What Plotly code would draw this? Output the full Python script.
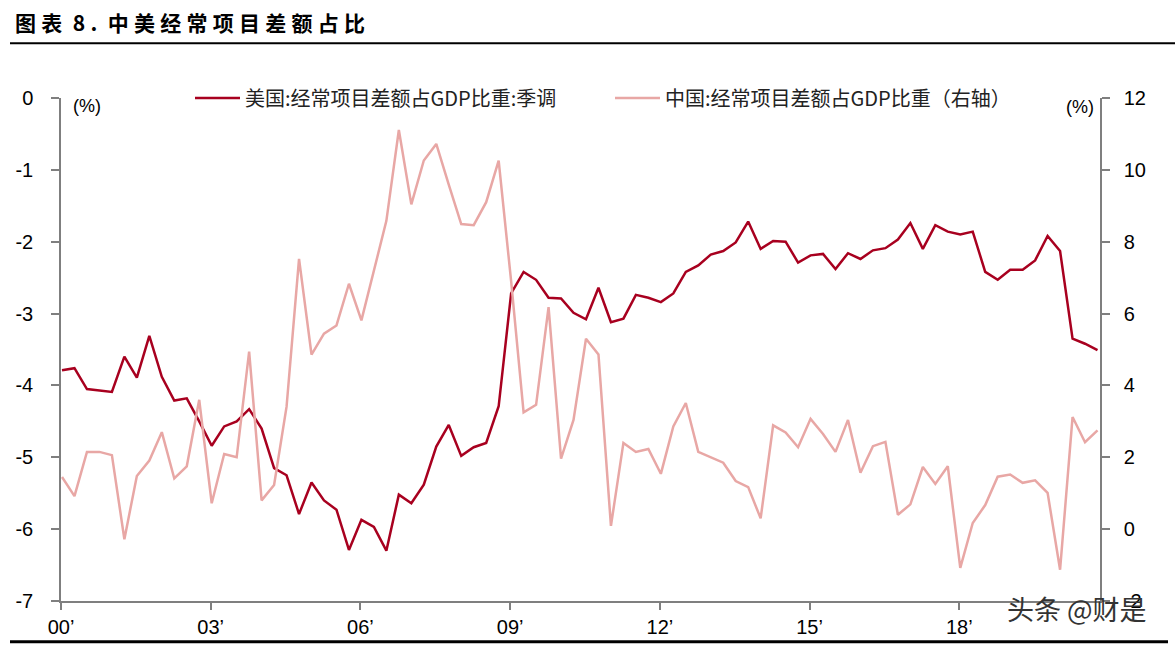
import plotly.graph_objects as go

# ---- data (quarterly, 2000Q1 - 2020Q4) ----
years = list(range(2000, 2021))
quarters = [f"{y}Q{q}" for y in years for q in range(1, 5)]

us_ca_gdp = [
    -3.79, -3.76, -4.05, -4.07, -4.09, -3.60, -3.89, -3.31, -3.88, -4.21,
    -4.18, -4.50, -4.84, -4.57, -4.50, -4.33, -4.60, -5.15, -5.25, -5.79,
    -5.35, -5.60, -5.73, -6.29, -5.87, -5.97, -6.30, -5.52, -5.64, -5.38,
    -4.85, -4.55, -4.98, -4.86, -4.80, -4.29, -2.72, -2.42, -2.53, -2.78,
    -2.79, -2.99, -3.08, -2.64, -3.12, -3.07, -2.74, -2.78, -2.84, -2.72,
    -2.42, -2.33, -2.18, -2.13, -2.01, -1.72, -2.10, -1.99, -2.00, -2.29,
    -2.19, -2.17, -2.38, -2.16, -2.24, -2.12, -2.09, -1.97, -1.74, -2.10,
    -1.77, -1.86, -1.90, -1.86, -2.42, -2.53, -2.39, -2.39, -2.26, -1.92,
    -2.13, -3.35, -3.42, -3.51,
]

cn_ca_gdp = [
    1.45, 0.92, 2.15, 2.15, 2.06, -0.28, 1.48, 1.91, 2.70, 1.41,
    1.75, 3.60, 0.72, 2.09, 2.00, 4.94, 0.80, 1.23, 3.41, 7.52,
    4.86, 5.44, 5.67, 6.83, 5.81, 7.20, 8.58, 11.11, 9.04, 10.26,
    10.72, 9.59, 8.49, 8.46, 9.10, 10.26, 6.90, 3.25, 3.46, 6.18,
    1.96, 3.04, 5.30, 4.86, 0.09, 2.40, 2.15, 2.23, 1.54, 2.86,
    3.51, 2.15, 2.00, 1.85, 1.34, 1.17, 0.30, 2.89, 2.69, 2.28,
    3.07, 2.65, 2.15, 3.04, 1.57, 2.31, 2.43, 0.40, 0.69, 1.73,
    1.26, 1.75, -1.08, 0.17, 0.67, 1.46, 1.52, 1.29, 1.36, 1.01,
    -1.13, 3.12, 2.42, 2.75,
]

x_tick_years = [2000, 2003, 2006, 2009, 2012, 2015, 2018]
x_tick_labels = ["00\u2019", "03\u2019", "06\u2019", "09\u2019", "12\u2019", "15\u2019", "18\u2019"]
y_left_ticks = [0, -1, -2, -3, -4, -5, -6, -7]
y_left_labels = ["0", "-1", "-2", "-3", "-4", "-5", "-6", "-7"]
y_right_ticks = [12, 10, 8, 6, 4, 2, 0, -2]
y_right_labels = ["12", "10", "8", "6", "4", "2", "0", "-2"]

us_name = "美国:经常项目差额占GDP比重:季调"
cn_name = "中国:经常项目差额占GDP比重（右轴）"
title_text = "图表 8. 中美经常项目差额占比"
watermark = "头条 @财是"

# x position of each quarter (numeric years)
x = [int(q[:4]) + (int(q[-1]) - 1) * 0.25 + 0.02 for q in quarters]

US_COLOR = "#A8001F"
CN_COLOR = "#E8A7A5"
AXIS_COLOR = "#7F7F7F"
FONT = "Noto Sans CJK SC"
NUM_FONT = "Liberation Sans"

fig = go.Figure()
fig.add_trace(go.Scatter(x=x, y=cn_ca_gdp, mode="lines", name=cn_name,
                         line=dict(color=CN_COLOR, width=2.5), yaxis="y2",
                         legend="legend2"))
fig.add_trace(go.Scatter(x=x, y=us_ca_gdp, mode="lines", name=us_name,
                         line=dict(color=US_COLOR, width=2.5), yaxis="y",
                         legend="legend"))

W, H = 1175, 650
L, R, T, B = 61, 1100, 98, 604


def px(v):
    return (v - L) / (R - L)


def py(v):
    return (B - v) / (B - T)


fig.update_layout(
    width=W, height=H,
    margin=dict(l=L, r=W - R, t=T, b=H - B, pad=0),
    paper_bgcolor="white", plot_bgcolor="white",
    font=dict(family=FONT, size=18, color="black"),
    xaxis=dict(range=[2000, 2020.82], tickvals=x_tick_years, ticktext=x_tick_labels,
               showgrid=False, zeroline=False, showline=True, linecolor=AXIS_COLOR,
               linewidth=1.5, ticks="outside", ticklen=7, tickcolor=AXIS_COLOR,
               tickwidth=1.5, tickfont=dict(family=NUM_FONT, size=20, color="black")),
    yaxis=dict(range=[-7, 0], tickvals=y_left_ticks, ticktext=y_left_labels,
               showgrid=False, zeroline=False, showline=True, linecolor=AXIS_COLOR,
               linewidth=1.5, ticks="outside", ticklen=8, tickcolor=AXIS_COLOR,
               tickwidth=1.5, ticklabelstandoff=14,
               tickfont=dict(family=NUM_FONT, size=20, color="black")),
    yaxis2=dict(range=[-2, 12], tickvals=y_right_ticks, ticktext=y_right_labels,
                overlaying="y", side="right",
                showgrid=False, zeroline=False, showline=True, linecolor=AXIS_COLOR,
                linewidth=1.5, ticks="outside", ticklen=8, tickcolor=AXIS_COLOR,
                tickwidth=1.5, ticklabelstandoff=10,
                tickfont=dict(family=NUM_FONT, size=20, color="black")),
    legend=dict(x=px(190), y=py(98), xanchor="left", yanchor="middle",
                orientation="h", bgcolor="rgba(0,0,0,0)", itemwidth=45,
                font=dict(family=FONT, size=20, color="#222")),
    legend2=dict(x=px(610), y=py(98), xanchor="left", yanchor="middle",
                 orientation="h", bgcolor="rgba(0,0,0,0)", itemwidth=45,
                 font=dict(family=FONT, size=20, color="#222")),
    showlegend=True,
)

sp = "\u2005"
title_spaced = sp.join(list(title_text)).replace(sp + " " + sp, "\u2002")
fig.add_annotation(text="<b>" + title_spaced + "</b>",
                   xref="paper", yref="paper", x=px(13), y=py(22),
                   xanchor="left", yanchor="middle", showarrow=False,
                   font=dict(family=FONT, size=21, color="black"))
fig.add_annotation(text="(%)", xref="paper", yref="paper", x=px(87), y=py(106),
                   xanchor="center", yanchor="middle", showarrow=False,
                   font=dict(family=NUM_FONT, size=18, color="black"))
fig.add_annotation(text="(%)", xref="paper", yref="paper", x=px(1080), y=py(107),
                   xanchor="center", yanchor="middle", showarrow=False,
                   font=dict(family=NUM_FONT, size=18, color="black"))
fig.add_annotation(text=watermark, xref="paper", yref="paper", x=px(1077), y=py(612),
                   xanchor="center", yanchor="middle", showarrow=False,
                   font=dict(family=FONT, size=27, color="#333333"))

fig.add_shape(type="line", xref="paper", yref="paper", x0=px(10), x1=px(1175),
              y0=py(43), y1=py(43), line=dict(color="black", width=2))
fig.add_shape(type="line", xref="paper", yref="paper", x0=px(10), x1=px(1168),
              y0=py(645), y1=py(645), line=dict(color="black", width=3))

fig.write_html("out.html")
